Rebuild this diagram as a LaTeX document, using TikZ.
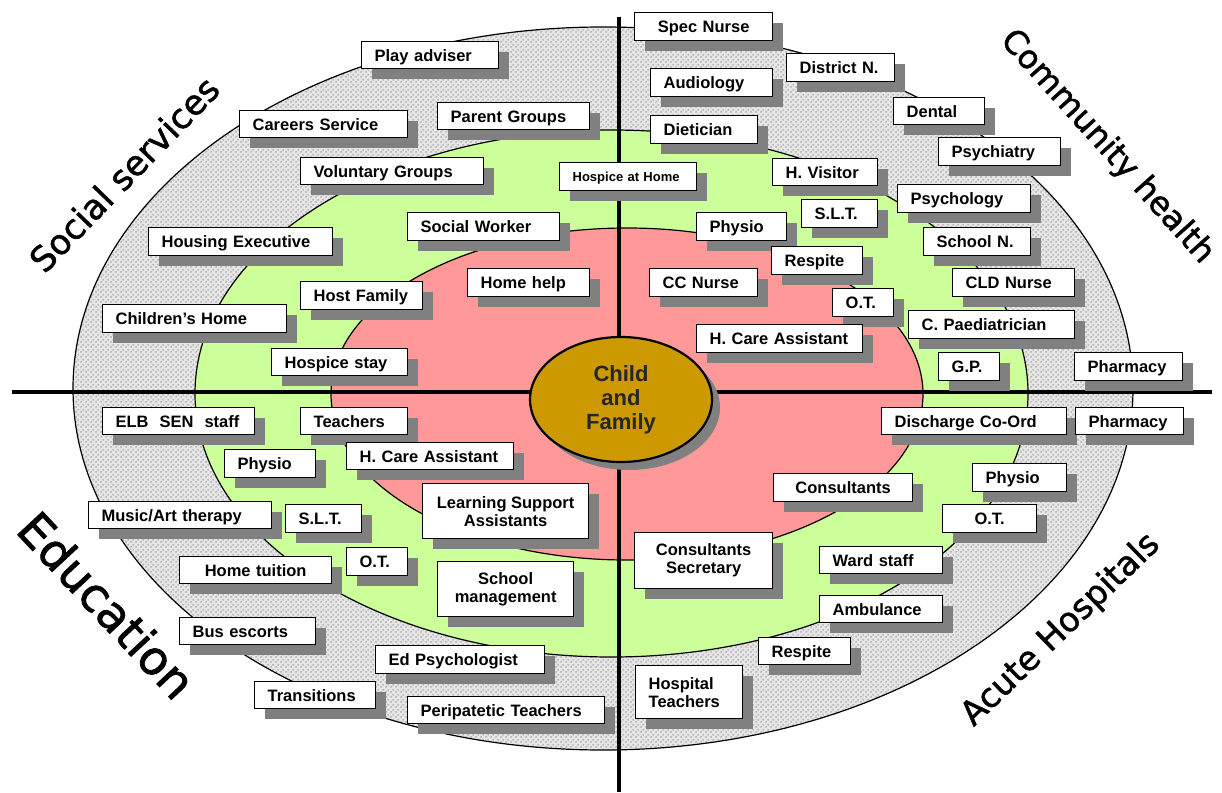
\documentclass[tikz,border=0pt]{standalone}
\usepackage{fontspec}
\setmainfont{Liberation Sans}
\newfontfamily\sectorfont{DejaVu Sans}[FakeBold=1.5]
\usetikzlibrary{shadows,patterns,shapes.geometric}

\definecolor{ringbase}{HTML}{E6E6E6}
\definecolor{ringdot}{HTML}{A6A6A6}
\definecolor{midgreen}{HTML}{CCFF99}
\definecolor{innerpink}{HTML}{FF9999}
\definecolor{hubgold}{HTML}{CC9900}
\definecolor{shadowgray}{HTML}{808080}

% stippled texture for the outer ring
\pgfdeclarepatternformonly{ringdots}{\pgfqpoint{0pt}{0pt}}{\pgfqpoint{5pt}{5pt}}{\pgfqpoint{5pt}{5pt}}{%
  \pgfpathcircle{\pgfqpoint{1.25pt}{1.25pt}}{1.15pt}%
  \pgfpathcircle{\pgfqpoint{3.75pt}{3.75pt}}{1.15pt}%
  \pgfusepath{fill}}

\tikzset{
  boxbase/.style={draw=black, line width=1.3pt, fill=white, anchor=north west,
    font=\fontsize{16.5}{18}\selectfont\bfseries,
    general shadow={fill=shadowgray, shadow xshift=10pt, shadow yshift=-10pt}},
  agency/.style={boxbase, inner xsep=13pt, inner ysep=0pt, align=left,
    text height=14pt, text depth=1.5pt},
  agencymid/.style={agency, align=center},
  agencytwo/.style={boxbase, inner sep=0pt, align=center},
  sector/.style={inner sep=0pt, text=black},
  axisline/.style={line width=4.5pt, draw=black},
  ringline/.style={line width=1.2pt, draw=black},
  hub/.style={ellipse, draw=black, line width=2.2pt, fill=hubgold, inner sep=0pt,
    minimum width=182pt, minimum height=125pt, align=center,
    font=\fontsize{22}{24}\selectfont\bfseries, text=black!85,
    general shadow={fill=shadowgray, shadow xshift=8pt, shadow yshift=-8pt}}
}

\begin{document}
\begin{tikzpicture}[x=1pt,y=-1pt]
\useasboundingbox (0,0) rectangle (1222,792);
\fill[white] (0,0) rectangle (1222,792);

% concentric rings
\fill[ringbase] (603,388.5) ellipse [x radius=530, y radius=361.5];
\fill[pattern=ringdots, pattern color=ringdot] (603,388.5) ellipse [x radius=530, y radius=361.5];
\draw[ringline] (603,388.5) ellipse [x radius=530, y radius=361.5];
\filldraw[ringline, fill=midgreen] (611.5,393.5) ellipse [x radius=416.5, y radius=263.5];
\filldraw[ringline, fill=innerpink] (627,394) ellipse [x radius=296, y radius=166];

% dividing axes
\coordinate (vtop) at (619,17);
\coordinate (vbot) at (619,792);
\coordinate (hleft) at (12,392);
\coordinate (hright) at (1212,392);
\draw[axisline] (vtop) -- (vbot);
\draw[axisline] (hleft) -- (hright);

% centre
\node[hub] (hub) at (621,399.5) {Child\\and\\Family};

% social services
\node[agency, text width=111pt, minimum height=27pt] (playadv) at (361,41) {Play adviser};
\node[agency, text width=142pt, minimum height=27pt] (careers) at (239,110) {Careers Service};
\node[agency, text width=126pt, minimum height=27pt] (parentgrp) at (437,102) {Parent Groups};
\node[agency, text width=157pt, minimum height=27pt] (volgrp) at (300,157) {Voluntary Groups};
\node[boxbase, inner xsep=13pt, inner ysep=0pt, align=left, text height=10.5pt, text depth=1.5pt,
      font=\fontsize{13}{15}\selectfont\bfseries, text width=111pt, minimum height=28pt]
      (hospicehome) at (559,162) {Hospice at Home};
\node[agency, text width=126pt, minimum height=28pt] (socworker) at (407,212) {Social Worker};
\node[agency, text width=158pt, minimum height=28pt] (housing) at (148,227) {Housing Executive};
\node[agency, text width=96pt, minimum height=28pt] (homehelp) at (467,268) {Home help};
\node[agency, text width=96pt, minimum height=28pt] (hostfam) at (300,281) {Host Family};
\node[agency, text width=158pt, minimum height=28pt] (childhome) at (102,304) {Children's Home};
\node[agency, text width=110pt, minimum height=27pt] (hospstay) at (271,348) {Hospice stay};

% community health
\node[agencymid, text width=112pt, minimum height=28pt] (specnurse) at (634,12) {Spec Nurse};
\node[agency, text width=82pt, minimum height=28pt] (districtn) at (786,53) {District N.};
\node[agency, text width=96pt, minimum height=28pt] (audiology) at (650,68) {Audiology};
\node[agency, text width=81pt, minimum height=28pt] (dietician) at (650,115) {Dietician};
\node[agency, text width=65pt, minimum height=27pt] (dental) at (893,97) {Dental};
\node[agency, text width=96pt, minimum height=28pt] (psychiatry) at (938,137) {Psychiatry};
\node[agency, text width=79pt, minimum height=27pt] (hvisitor) at (772,158) {H. Visitor};
\node[agency, text width=107pt, minimum height=28pt] (psychology) at (897,184) {Psychology};
\node[agency, text width=50pt, minimum height=28pt] (sltch) at (801,199) {S.L.T.};
\node[agency, text width=64pt, minimum height=28pt] (physioch) at (696,212) {Physio};
\node[agency, text width=81pt, minimum height=28pt] (schooln) at (923,227) {School N.};
\node[agency, text width=65pt, minimum height=28pt] (respitech) at (771,246) {Respite};
\node[agency, text width=82pt, minimum height=28pt] (ccnurse) at (649,268) {CC Nurse};
\node[agency, text width=96pt, minimum height=28pt] (cldnurse) at (952,268) {CLD Nurse};
\node[agency, text width=35pt, minimum height=28pt] (otch) at (832,288) {O.T.};
\node[agency, text width=140pt, minimum height=28pt] (cpaed) at (908,310) {C. Paediatrician};
\node[agency, text width=140pt, minimum height=28pt] (hcarech) at (696,324) {H. Care Assistant};
\node[agency, text width=35pt, minimum height=28pt] (gp) at (938,352) {G.P.};
\node[agency, text width=82pt, minimum height=28pt] (pharmch) at (1074,352) {Pharmacy};

% education
\node[agency, text width=126pt, minimum height=27pt] (elb) at (102,407) {ELB\ \ SEN\ \ staff};
\node[agency, text width=81pt, minimum height=27pt] (teachers) at (300,407) {Teachers};
\node[agency, text width=65pt, minimum height=28pt] (physioed) at (224,449) {Physio};
\node[agency, text width=141pt, minimum height=27pt] (hcareed) at (346,442) {H. Care Assistant};
\node[agencytwo, minimum width=166pt, minimum height=55pt] (lsa) at (422,483) {Learning Support\\Assistants};
\node[agency, text width=157pt, minimum height=27pt] (music) at (88,501) {Music/Art therapy};
\node[agency, text width=50pt, minimum height=28pt] (slted) at (285,504) {S.L.T.};
\node[agency, text width=35pt, minimum height=28pt] (oted) at (346,547) {O.T.};
\node[agencymid, text width=126pt, minimum height=27pt] (hometuit) at (179,556) {Home tuition};
\node[agencytwo, minimum width=136pt, minimum height=55pt] (schoolmgmt) at (437,561) {School\\management};
\node[agency, text width=110pt, minimum height=27pt] (busesc) at (179,617) {Bus escorts};
\node[agency, text width=143pt, minimum height=28pt] (edpsych) at (375,645) {Ed Psychologist};
\node[agency, text width=95pt, minimum height=27pt] (transitions) at (254,681) {Transitions};
\node[agency, text width=171pt, minimum height=27pt] (peripat) at (407,696) {Peripatetic Teachers};

% acute hospitals
\node[agency, text width=159pt, minimum height=27pt] (discharge) at (881,407) {Discharge Co-Ord};
\node[agency, text width=82pt, minimum height=27pt] (pharmah) at (1075,407) {Pharmacy};
\node[agency, text width=68pt, minimum height=28pt] (physioah) at (972,463) {Physio};
\node[agencymid, text width=113pt, minimum height=28pt] (consultants) at (773,473) {Consultants};
\node[agencymid, text width=68pt, minimum height=28pt] (otah) at (942,504) {O.T.};
\node[agencytwo, minimum width=138pt, minimum height=56pt] (conssec) at (634,532) {Consultants\\Secretary};
\node[agency, text width=97pt, minimum height=27pt] (wardstaff) at (819,546) {Ward staff};
\node[agency, text width=97pt, minimum height=27pt] (ambulance) at (819,595) {Ambulance};
\node[agency, text width=66pt, minimum height=27pt] (respiteah) at (758,637) {Respite};
\node[agencytwo, align=left, inner xsep=13pt, text width=81pt, minimum height=53pt] (hospteach) at (635,665) {Hospital\\Teachers};

% sector titles
\node[sector, rotate=46, font=\sectorfont\fontsize{34.5}{40}\selectfont] (social) at (124,174) {Social services};
\node[sector, rotate=-48, font=\sectorfont\fontsize{32.5}{38}\selectfont] (community) at (1107,147) {Community health};
\node[sector, rotate=-47, font=\sectorfont\fontsize{47}{52}\selectfont] (education) at (107,605) {Education};
\node[sector, rotate=44, font=\sectorfont\fontsize{33.5}{39}\selectfont] (acute) at (1061,630) {Acute Hospitals};
\end{tikzpicture}
\end{document}
